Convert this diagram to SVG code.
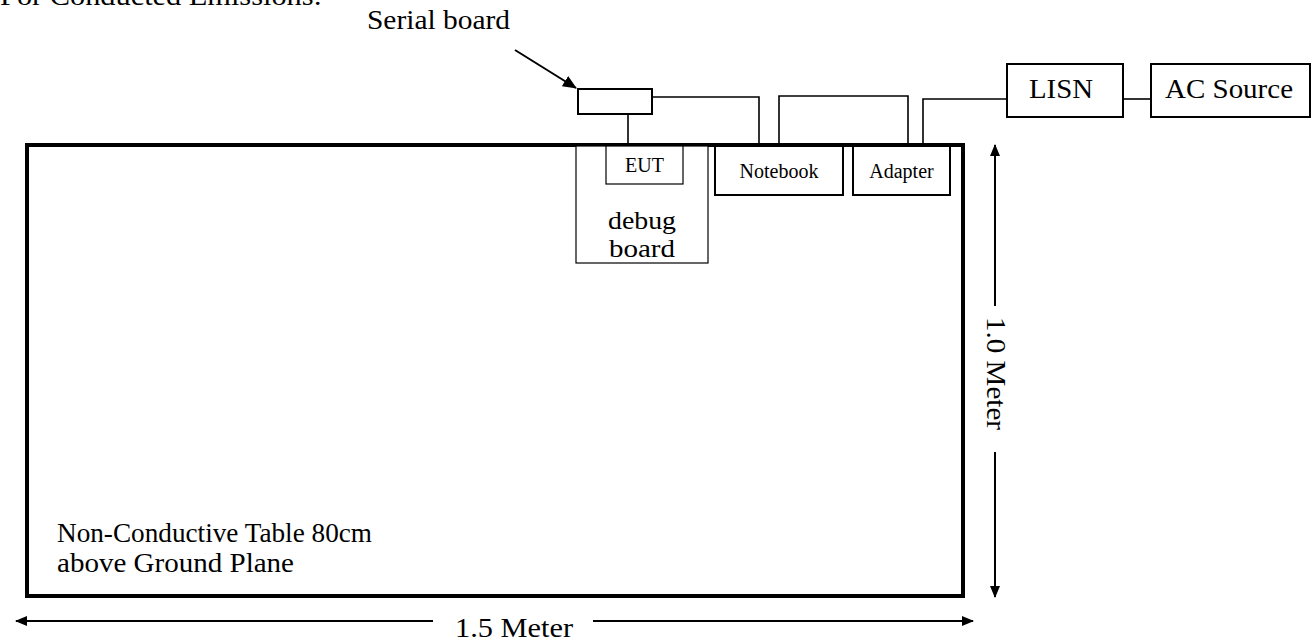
<svg xmlns="http://www.w3.org/2000/svg" width="1312" height="641" viewBox="0 0 1312 641">
<style>
text{font-family:"Liberation Serif","Times New Roman",serif;fill:#000}
.big{font-size:28px}
.mid{font-size:26px}
.small{font-size:20px}
.box{fill:#fff;stroke:#000;stroke-width:2}
.thin{fill:#fff;stroke:#000;stroke-width:1.2}
.wire{fill:none;stroke:#000;stroke-width:1.6}
.dim{fill:none;stroke:#000;stroke-width:2}
</style>
<defs>
<marker id="ah" viewBox="0 0 12 10" refX="11" refY="5" markerWidth="12" markerHeight="10" markerUnits="userSpaceOnUse" orient="auto">
<path d="M0,0 L12,5 L0,10 Z" fill="#000"/>
</marker>
<marker id="ah2" viewBox="0 0 14 12" refX="13" refY="6" markerWidth="14" markerHeight="12" markerUnits="userSpaceOnUse" orient="auto">
<path d="M0,0 L14,6 L0,12 Z" fill="#000"/>
</marker>
</defs>
<rect width="1312" height="641" fill="#fff"/>
<text class="big" x="0" y="5" textLength="322" lengthAdjust="spacingAndGlyphs">For Conducted Emissions:</text>
<g id="table">
<rect x="27" y="145" width="936" height="451" fill="#fff" stroke="#000" stroke-width="4"/>
<text class="big" x="57" y="542" textLength="315" lengthAdjust="spacingAndGlyphs">Non-Conductive Table 80cm</text>
<text class="big" x="57" y="572" textLength="237" lengthAdjust="spacingAndGlyphs">above Ground Plane</text>
</g>
<g id="connectors">
<line class="dim" x1="515" y1="50" x2="576" y2="88" marker-end="url(#ah2)" stroke-width="2.5"/>
<polyline class="wire" points="628,114 628,145"/>
<polyline class="wire" points="652,97 759,97 759,145"/>
<polyline class="wire" points="779,145 779,96 908,96 908,145"/>
<polyline class="wire" points="923,145 923,99 1007,99"/>
<polyline class="wire" points="1123,99 1151,99"/>
</g>
<g id="debug-board">
<rect class="thin" x="576" y="146" width="132" height="117"/>
<text class="mid" x="642" y="229" text-anchor="middle" textLength="68" lengthAdjust="spacingAndGlyphs">debug</text>
<text class="mid" x="642" y="257" text-anchor="middle" textLength="66" lengthAdjust="spacingAndGlyphs">board</text>
</g>
<g id="eut">
<rect class="thin" x="606" y="146" width="77" height="38"/>
<text class="small" x="644.5" y="172" text-anchor="middle">EUT</text>
</g>
<g id="serial-board">
<rect class="box" x="578" y="89" width="74" height="25"/>
<text class="big" x="367" y="29" textLength="143" lengthAdjust="spacingAndGlyphs">Serial board</text>
</g>
<g id="notebook">
<rect class="box" x="715" y="146" width="128" height="49"/>
<text class="small" x="779" y="178" text-anchor="middle">Notebook</text>
</g>
<g id="adapter">
<rect class="box" x="853" y="146" width="97" height="49"/>
<text class="small" x="901.5" y="178" text-anchor="middle">Adapter</text>
</g>
<g id="lisn">
<rect class="box" x="1007" y="64" width="116" height="53"/>
<text class="big" x="1061" y="98" text-anchor="middle" textLength="64" lengthAdjust="spacingAndGlyphs">LISN</text>
</g>
<g id="ac-source">
<rect class="box" x="1151" y="64" width="159" height="53"/>
<text class="big" x="1229" y="98" text-anchor="middle" textLength="128" lengthAdjust="spacingAndGlyphs">AC Source</text>
</g>
<g id="dimensions">
<line class="dim" x1="433" y1="621" x2="16" y2="621" marker-end="url(#ah)"/>
<line class="dim" x1="593" y1="621" x2="973" y2="621" marker-end="url(#ah)"/>
<text class="big" x="455" y="637" textLength="118" lengthAdjust="spacingAndGlyphs">1.5 Meter</text>
<line class="dim" x1="995" y1="306" x2="995" y2="145" marker-end="url(#ah)"/>
<line class="dim" x1="995" y1="452" x2="995" y2="597" marker-end="url(#ah)"/>
<text class="big" transform="translate(987,317) rotate(90)" x="0" y="0" textLength="113" lengthAdjust="spacingAndGlyphs">1.0 Meter</text>
</g>
</svg>
